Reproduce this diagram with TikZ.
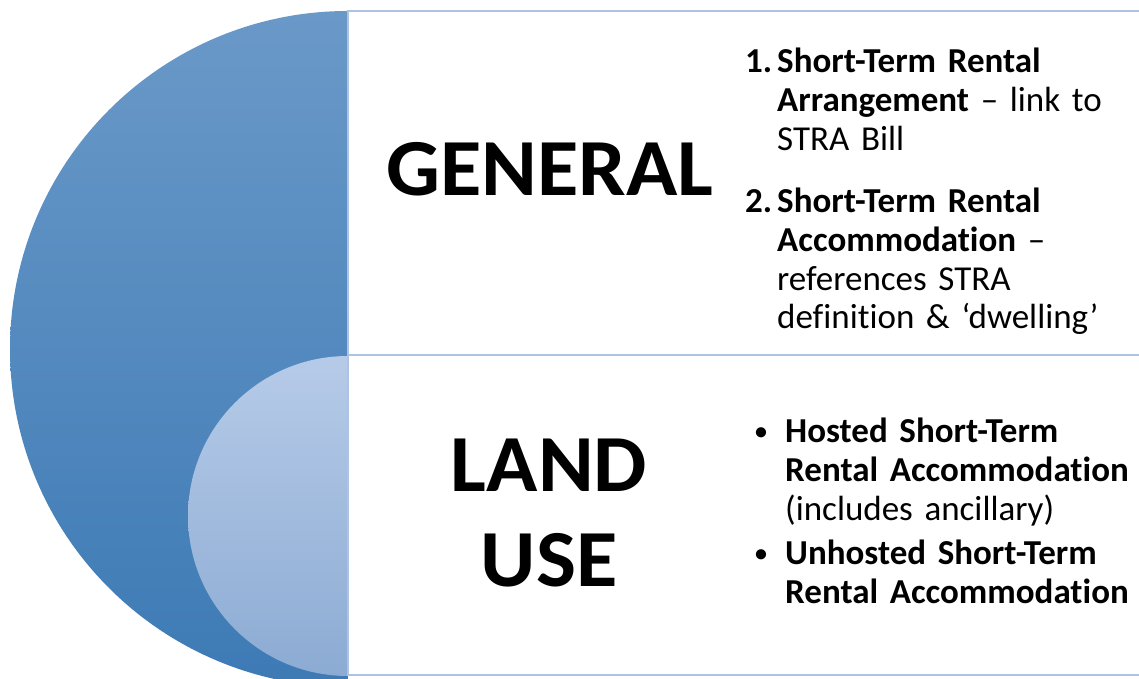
\documentclass[tikz,border=0pt]{standalone}
\usepackage{fontspec}
\setmainfont{Carlito}[Ligatures={TeX,NoCommon}]
\newfontfamily\titlefont{Carlito}[FakeStretch=1.045]
\usetikzlibrary{calc}
\usetikzlibrary{positioning}

\definecolor{bigtop}{RGB}{106,153,200}
\definecolor{bigbot}{RGB}{61,122,181}
\definecolor{smalltop}{RGB}{182,203,232}
\definecolor{smallbot}{RGB}{140,171,211}
\definecolor{boxline}{RGB}{172,196,226}

\tikzset{
  title/.style={font={\titlefont\fontsize{81}{95}\selectfont\bfseries}, align=center, inner sep=0pt},
  listtext/.style={font={\fontsize{35}{38.6}\selectfont}, text width=380pt, align=left, inner sep=0pt, anchor=base west},
  marker/.style={font={\fontsize{35}{38.6}\selectfont\bfseries}, inner sep=0pt, anchor=base west},
  dot/.style={font={\fontsize{24}{24}\selectfont\bfseries}, inner sep=0pt, anchor=base}
}

\begin{document}
\begin{tikzpicture}[x=1pt,y=1pt]
\useasboundingbox (0,0) rectangle (1139,679);
\clip (0,0) rectangle (1139,679);
\coordinate (O) at (348,330);
\coordinate (P) at (348,163);

% half discs
\shade[top color=bigtop, bottom color=bigbot] ($ (O)+(0,338) $) arc (90:270:338) -- cycle;
\shade[top color=smalltop, bottom color=smallbot] ($ (P)+(0,160) $) arc (90:270:160) -- cycle;

% boxes
\draw[boxline, line width=1.5pt] (348,668) rectangle (1150,324);
\draw[boxline, line width=1.5pt] (348,324) rectangle (1150,4);

\node[title] (general) at (550,510) {GENERAL};
\node[title, anchor=base] (landuse) at (549,92) {LAND\\USE};

\node[marker] (n1) at (745,606) {1.};
\node[listtext] (stra) at (777,606) {\textbf{Short-Term Rental}\\\textbf{Arrangement} – link to\\STRA Bill};
\node[marker] (n2) at (745,466) {2.};
\node[listtext] (strac) at (777,466) {\textbf{Short-Term Rental}\\\textbf{Accommodation} –\\references STRA\\definition \& ‘dwelling’};

\node[dot] (b1) at (761,239) {•};
\node[listtext] (hosted) at (785,236) {\textbf{Hosted Short-Term}\\\textbf{Rental Accommodation}\\(includes ancillary)};
\node[dot] (b2) at (761,117) {•};
\node[listtext] (unhosted) at (785,114) {\textbf{Unhosted Short-Term}\\\textbf{Rental Accommodation}};
\end{tikzpicture}
\end{document}
